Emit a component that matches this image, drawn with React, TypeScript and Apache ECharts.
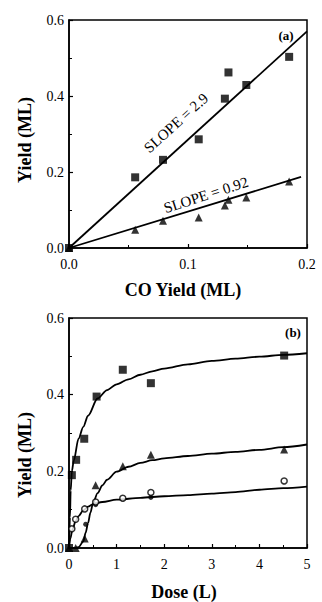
import React, { useEffect, useRef } from "react";
import * as echarts from "echarts";

// Panel (a): yield vs CO yield
const coYieldA = [0, 0.0556, 0.079, 0.109, 0.131, 0.134, 0.149, 0.185];
const squaresA = [0, 0.186, 0.232, 0.286, 0.393, 0.462, 0.429, 0.503];
const trianglesA = [0, 0.048, 0.072, 0.08, 0.112, 0.127, 0.133, 0.175];
const fitUpperA: [number, number][] = [[0, 0], [0.2, 0.57]];
const fitLowerA: [number, number][] = [[0, 0], [0.195, 0.187]];

// Panel (b): yield vs dose
const doseSquaresB = [0, 0.06, 0.15, 0.32, 0.58, 1.13, 1.72, 4.52];
const squaresB = [0, 0.19, 0.23, 0.285, 0.395, 0.465, 0.43, 0.502];
const doseTrianglesB = [0, 0.14, 0.33, 0.56, 1.13, 1.72, 4.52];
const trianglesB = [0, 0, 0.025, 0.164, 0.213, 0.243, 0.257];
const doseOpenB = [0.06, 0.14, 0.33, 0.56, 1.13, 1.72, 4.52];
const openCirclesB = [0.05, 0.075, 0.102, 0.12, 0.13, 0.145, 0.175];
const doseFilledB = [0.35, 0.56, 1.72];
const filledCirclesB = [0.062, 0.113, 0.132];

// Fitted curves
const curveSquaresDose = [0, 0.02, 0.035, 0.06, 0.1, 0.2, 0.3, 0.4, 0.6, 0.8, 1.0, 1.25, 1.5, 1.75, 2, 2.5, 3, 3.5, 4, 4.5, 5];
const curveSquaresYield = [0, 0.08, 0.15, 0.2, 0.228, 0.285, 0.316, 0.345, 0.39, 0.412, 0.427, 0.44, 0.452, 0.461, 0.468, 0.479, 0.488, 0.494, 0.499, 0.504, 0.508];
const curveTrianglesDose = [0, 0.1, 0.2, 0.3, 0.35, 0.4, 0.45, 0.5, 0.6, 0.7, 0.8, 1.0, 1.25, 1.5, 1.75, 2, 2.5, 3, 3.5, 4, 4.5, 5];
const curveTrianglesYield = [0, 0, 0.002, 0.017, 0.04, 0.065, 0.092, 0.115, 0.143, 0.163, 0.178, 0.199, 0.212, 0.222, 0.229, 0.234, 0.24, 0.246, 0.251, 0.256, 0.263, 0.27];
const curveCirclesDose = [0, 0.03, 0.07, 0.14, 0.2, 0.3, 0.4, 0.5, 0.7, 1.0, 1.5, 2, 2.5, 3, 3.5, 4, 4.5, 5];
const curveCirclesYield = [0, 0.025, 0.047, 0.07, 0.083, 0.098, 0.108, 0.114, 0.12, 0.126, 0.131, 0.135, 0.138, 0.142, 0.146, 0.152, 0.156, 0.16];

const yTicks = [0, 0.2, 0.4, 0.6];

const FONT = "Liberation Serif";
const pair = (xs: number[], ys: number[]) => xs.map((x, i) => [x, ys[i]]);

export default function App() {
  const ref = useRef<HTMLDivElement>(null);
  useEffect(() => {
    if (!ref.current) return;
    const chart = echarts.init(ref.current, null, { renderer: "svg" });
    const axisLine = { show: true, onZero: false, lineStyle: { color: "#000", width: 1.5 } };
    const axisTick = { show: true, inside: true, length: 4, lineStyle: { color: "#000", width: 1.2 } };
    const minorTick = { show: true, splitNumber: 2, length: 3, lineStyle: { color: "#000", width: 1 } };
    const label = (fmt: (v: number) => string, margin: number) => ({
      color: "#000",
      fontFamily: FONT,
      fontSize: 14,
      margin,
      formatter: fmt,
    });
    const xBase = (gi: number, max: number, interval: number, fmt: (v: number) => string) => ({
      type: "value",
      gridIndex: gi,
      min: 0,
      max,
      interval,
      axisLine,
      axisTick,
      minorTick: { ...minorTick },
      splitLine: { show: false },
      minorSplitLine: { show: false },
      axisLabel: label(fmt, 9),
    });
    const yBase = (gi: number) => ({
      type: "value",
      gridIndex: gi,
      min: yTicks[0],
      max: yTicks[yTicks.length - 1],
      interval: 0.2,
      axisLine,
      axisTick,
      minorTick: { ...minorTick },
      splitLine: { show: false },
      minorSplitLine: { show: false },
      axisLabel: label((v: number) => v.toFixed(1), 5),
    });
    const lineSeries = (xi: number, data: number[][], smooth: boolean) => ({
      type: "line",
      xAxisIndex: xi,
      yAxisIndex: xi,
      data,
      showSymbol: false,
      symbol: "none",
      smooth: smooth ? 0.3 : false,
      smoothMonotone: "x",
      lineStyle: { color: "#000", width: 1.8 },
      silent: true,
      z: 2,
    });
    const scatter = (xi: number, data: number[][], symbol: string, size: number, filled = true) => ({
      type: "scatter",
      xAxisIndex: xi,
      yAxisIndex: xi,
      data,
      symbol,
      symbolSize: size,
      itemStyle: filled
        ? { color: "#000" }
        : { color: "#fff", borderColor: "#000", borderWidth: 1.5 },
      z: 3,
    });
    const text = (t: string, x: number, y: number, size: number, weight: string, rot = 0) => ({
      type: "text",
      x,
      y,
      rotation: rot,
      style: {
        text: t,
        fill: "#000",
        font: `${weight} ${size}px "${FONT}"`,
        align: "center",
        verticalAlign: "middle",
      },
    });
    chart.setOption({
      animation: false,
      backgroundColor: "#fff",
      grid: [
        { left: 69, top: 20, width: 238, height: 228, show: true, borderColor: "#000", borderWidth: 1.5, backgroundColor: "transparent" },
        { left: 69, top: 318, width: 238, height: 230, show: true, borderColor: "#000", borderWidth: 1.5, backgroundColor: "transparent" },
      ],
      xAxis: [
        xBase(0, 0.2, 0.1, (v: number) => v.toFixed(1)),
        xBase(1, 5, 1, (v: number) => String(Math.round(v))),
      ],
      yAxis: [yBase(0), yBase(1)],
      series: [
        lineSeries(0, fitUpperA, false),
        lineSeries(0, fitLowerA, false),
        scatter(0, pair(coYieldA, squaresA), "rect", 8),
        scatter(0, pair(coYieldA, trianglesA), "triangle", 8),
        lineSeries(1, pair(curveSquaresDose, curveSquaresYield), true),
        lineSeries(1, pair(curveTrianglesDose, curveTrianglesYield), true),
        lineSeries(1, pair(curveCirclesDose, curveCirclesYield), true),
        scatter(1, pair(doseSquaresB, squaresB), "rect", 8),
        scatter(1, pair(doseTrianglesB, trianglesB), "triangle", 8),
        scatter(1, pair(doseFilledB, filledCirclesB), "circle", 5),
        scatter(1, pair(doseOpenB, openCirclesB), "circle", 6, false),
      ],
      graphic: [
        text("(a)", 286, 35, 13, "bold"),
        text("(b)", 293, 332, 13, "bold"),
        text("SLOPE = 2.9", 176, 123, 15, "normal", (42 * Math.PI) / 180),
        text("SLOPE = 0.92", 206, 195, 15, "normal", (18 * Math.PI) / 180),
        text("CO Yield (ML)", 183, 290, 18, "bold"),
        text("Dose (L)", 184, 592, 18, "bold"),
        text("Yield (ML)", 25, 140, 18, "bold", Math.PI / 2),
        text("Yield (ML)", 25, 455, 18, "bold", Math.PI / 2),
      ],
    });
    return () => chart.dispose();
  }, []);
  return (
    <div
      ref={ref}
      style={{ position: "absolute", left: 0, top: 0, width: 322, height: 602, background: "#fff" }}
    />
  );
}
